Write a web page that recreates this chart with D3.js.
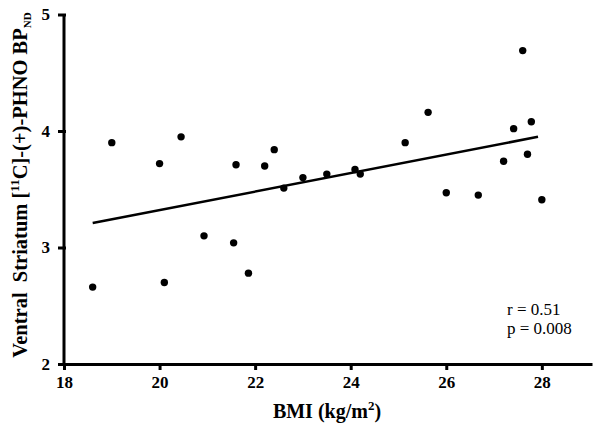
<!DOCTYPE html>
<html>
<head>
<meta charset="utf-8">
<script src="https://cdn.jsdelivr.net/npm/d3@7"></script>
<style>
  body { margin: 0; background: #fff; }
  svg text { font-family: "Liberation Serif", "Times New Roman", serif; }
</style>
</head>
<body>
<svg id="chart" width="601" height="432"></svg>
<script>
// BMI vs. ventral striatum BPND, one dot per subject
const bmi = [18.6, 19.0, 20.0, 20.1, 20.45, 20.93, 21.55, 21.86, 21.6, 22.2, 22.4, 22.6, 23.0,
             23.5, 24.09, 24.2, 25.14, 25.62, 26.0, 26.67, 27.2, 27.41, 27.6, 27.7, 27.78, 28.0];
const bpnd = [2.66, 3.90, 3.72, 2.70, 3.95, 3.10, 3.04, 2.78, 3.71, 3.70, 3.84, 3.51, 3.60,
              3.63, 3.67, 3.63, 3.90, 4.16, 3.47, 3.45, 3.74, 4.02, 4.69, 3.80, 4.08, 3.41];
// regression line end points
const fitX = [18.6, 27.92];
const fitY = [3.21, 3.95];
const xTicks = [18, 20, 22, 24, 26, 28];
const yTicks = [2, 3, 4, 5];

const svg = d3.select("#chart");
const x = d3.scaleLinear().domain([18, 29.05]).range([64, 592]);
const y = d3.scaleLinear().domain([2, 5]).range([364, 14.5]);

// axes
const xAxis = svg.append("g")
    .attr("transform", `translate(0,${y(2)})`)
    .call(d3.axisBottom(x).tickValues(xTicks).tickSize(6).tickPadding(6).tickSizeOuter(0));
const yAxis = svg.append("g")
    .attr("transform", `translate(${x(18)},0)`)
    .call(d3.axisLeft(y).tickValues(yTicks).tickFormat(d3.format("d"))
        .tickSize(6).tickPadding(8).tickSizeOuter(0));

[xAxis, yAxis].forEach(g => {
    g.select(".domain").attr("stroke", "#000").attr("stroke-width", 3);
    g.selectAll(".tick line").attr("stroke", "#000").attr("stroke-width", 3);
    g.selectAll(".tick text")
        .attr("fill", "#000")
        .style("font-size", "17px")
        .style("font-weight", "bold")
        .style("font-family", "'Liberation Serif', serif");
});
yAxis.select(".domain").attr("d", `M0,${y(2) + 1.5}V${y(5)}`);
yAxis.selectAll(".tick line").attr("x1", 2);

// fit line
svg.append("line")
    .attr("x1", x(fitX[0])).attr("y1", y(fitY[0]))
    .attr("x2", x(fitX[1])).attr("y2", y(fitY[1]))
    .attr("stroke", "#000")
    .attr("stroke-width", 2.5);

// dots
svg.append("g").selectAll("circle")
    .data(bmi.map((b, i) => [b, bpnd[i]]))
    .join("circle")
    .attr("cx", d => x(d[0]))
    .attr("cy", d => y(d[1]))
    .attr("r", 3.7)
    .attr("fill", "#000");

// stats
svg.append("text").attr("x", 507).attr("y", 315)
    .style("font-size", "17px").text("r = 0.51");
svg.append("text").attr("x", 507).attr("y", 334)
    .style("font-size", "17px").text("p = 0.008");

// axis titles
const xt = svg.append("text")
    .attr("x", 327).attr("y", 418)
    .attr("text-anchor", "middle")
    .style("font-size", "20px").style("font-weight", "bold");
xt.append("tspan").text("BMI (kg/m");
xt.append("tspan").attr("dy", -8).style("font-size", "13px").text("2");
xt.append("tspan").attr("dy", 8).text(")");

const yt = svg.append("text")
    .attr("transform", "translate(27,185) rotate(-90)")
    .attr("text-anchor", "middle")
    .style("font-size", "20.5px").style("font-weight", "bold");
yt.append("tspan").text("Ventral\u00a0 Striatum [");
yt.append("tspan").attr("dy", -8).style("font-size", "13px").text("11");
yt.append("tspan").attr("dy", 8).text("C]-(+)-PHNO BP");
yt.append("tspan").attr("dy", 4).style("font-size", "11px").text("ND");
</script>
</body>
</html>
